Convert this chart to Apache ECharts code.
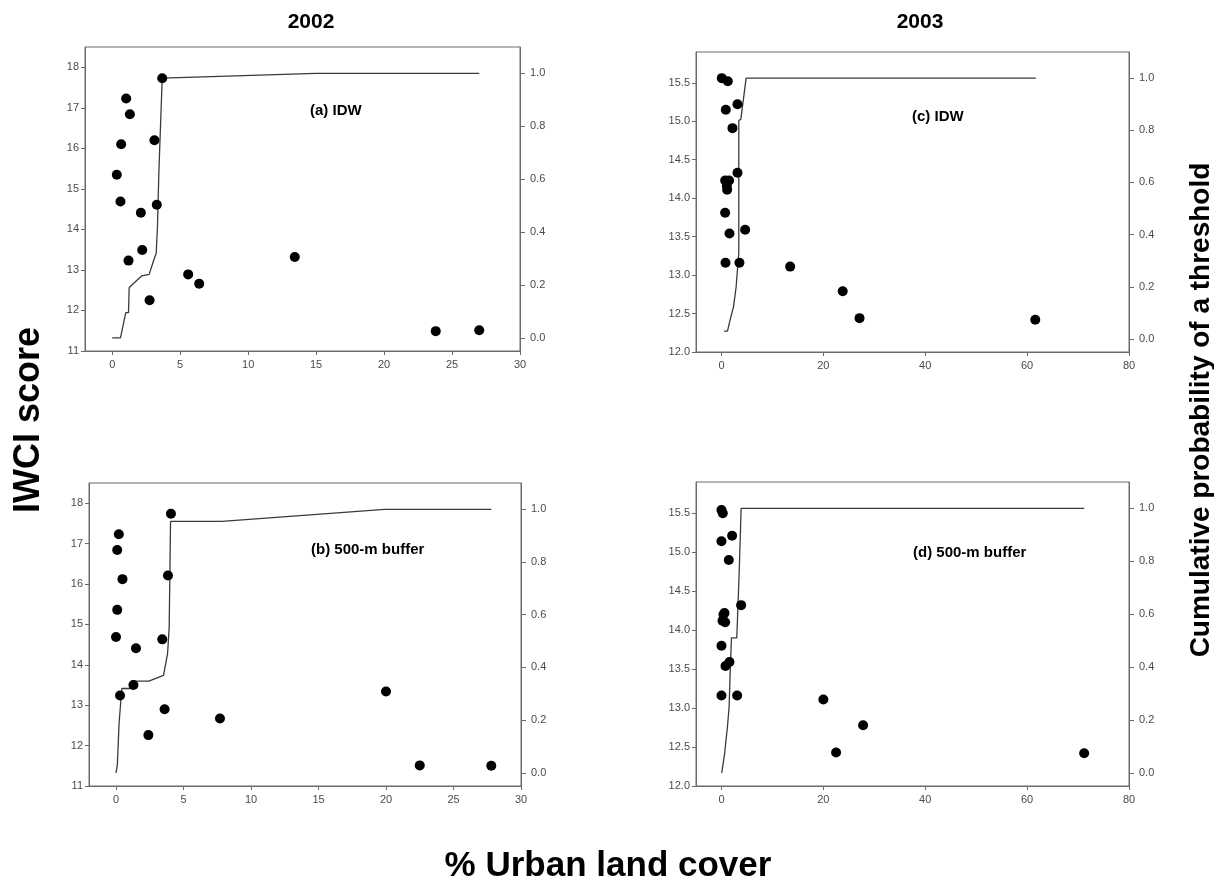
<!DOCTYPE html>
<html>
<head>
<meta charset="utf-8">
<script src="https://cdn.jsdelivr.net/npm/echarts@6/dist/echarts.min.js"></script>
<style>
html,body{margin:0;padding:0;background:#fff;}
#chart{width:1214px;height:886px;}
</style>
</head>
<body>
<div id="chart"></div>
<script>
// ---------- data ----------
// (a) 2002 IDW : % urban land cover, IWCI score
const urbanA = [3.68, 1.03, 1.30, 0.66, 3.11, 0.34, 0.61, 3.28, 2.11, 2.21, 1.20, 5.59, 6.40, 2.75, 13.43, 23.8, 27.0];
const iwciA  = [17.73, 17.23, 16.84, 16.10, 16.20, 15.35, 14.69, 14.61, 14.41, 13.49, 13.23, 12.89, 12.66, 12.25, 13.32, 11.49, 11.51];
const cumXA  = [0, 0.61, 1.0, 1.2, 1.25, 2.16, 2.72, 3.06, 3.24, 3.33, 3.43, 3.68, 15.0, 27.0];
const cumPA  = [0, 0, 0.095, 0.095, 0.19, 0.234, 0.24, 0.294, 0.32, 0.42, 0.62, 0.982, 1.0, 1.0];

// (b) 2002 500-m buffer
const urbanB = [4.07, 0.21, 0.09, 0.48, 0.09, 0.0, 3.85, 1.48, 3.43, 1.29, 0.3, 3.6, 2.4, 7.7, 20.0, 22.5, 27.8];
const iwciB  = [17.74, 17.23, 16.84, 16.12, 15.36, 14.69, 16.21, 14.41, 14.63, 13.50, 13.24, 12.90, 12.26, 12.67, 13.34, 11.51, 11.50];
const cumXB  = [0, 0.1, 0.23, 0.29, 0.43, 1.14, 1.14, 2.43, 3.52, 3.82, 3.94, 4.04, 7.85, 19.9, 27.8];
const cumPB  = [0, 0.03, 0.19, 0.19, 0.32, 0.32, 0.348, 0.348, 0.37, 0.452, 0.553, 0.954, 0.954, 1.0, 1.0];

// (c) 2003 IDW
const urbanC = [0.07, 1.24, 0.85, 3.14, 2.16, 3.14, 0.72, 1.5, 1.05, 1.11, 0.72, 1.57, 4.65, 0.79, 3.53, 13.48, 23.8, 27.1, 61.6];
const iwciC  = [15.56, 15.52, 15.15, 15.22, 14.91, 14.33, 14.23, 14.23, 14.16, 14.11, 13.81, 13.54, 13.59, 13.16, 13.16, 13.11, 12.79, 12.44, 12.42];
const cumXC  = [0.52, 1.18, 1.7, 2.36, 2.88, 3.27, 3.4, 3.4, 3.8, 4.84, 61.7];
const cumPC  = [0.03, 0.03, 0.073, 0.123, 0.2, 0.30, 0.327, 0.837, 0.842, 1.0, 1.0];

// (d) 2003 500-m buffer
const urbanD = [0.0, 0.26, 0.0, 2.09, 1.44, 3.86, 0.59, 0.2, 0.72, 0.4, 0.0, 0.79, 1.57, 0.0, 3.08, 20.0, 27.8, 22.5, 71.2];
const iwciD  = [15.54, 15.50, 15.14, 15.21, 14.90, 14.32, 14.22, 14.12, 14.10, 14.20, 13.80, 13.54, 13.59, 13.16, 13.16, 13.11, 12.78, 12.43, 12.42];
const cumXD  = [0.05, 0.6, 1.18, 1.5, 1.7, 1.96, 3.0, 3.14, 3.47, 3.86, 71.2];
const cumPD  = [0.0, 0.07, 0.175, 0.25, 0.376, 0.51, 0.51, 0.578, 0.754, 1.0, 1.0];

// tick labels
const xTicks2002 = [0, 5, 10, 15, 20, 25, 30];
const xTicks2003 = [0, 20, 40, 60, 80];
const yTicks2002 = [11, 12, 13, 14, 15, 16, 17, 18];
const yTicks2003 = [12.0, 12.5, 13.0, 13.5, 14.0, 14.5, 15.0, 15.5];
const probTicks  = [0.0, 0.2, 0.4, 0.6, 0.8, 1.0];

const yearTitles  = ['2002', '2003'];
const panelLabels = ['(a) IDW', '(b) 500-m buffer', '(c) IDW', '(d) 500-m buffer'];
const yTitle = 'IWCI score';
const y2Title = 'Cumulative probability of a threshold';
const xTitle = '% Urban land cover';

// ---------- layout ----------
const FONT = 'Liberation Sans, Arial, sans-serif';
const AXC = '#6a6a6a';
const LBL = '#4a4a4a';

const grids = [
  {left: 85,  top: 47,  width: 435, height: 304},
  {left: 89,  top: 483, width: 432, height: 303},
  {left: 696, top: 52,  width: 433, height: 300},
  {left: 696, top: 482, width: 433, height: 304}
].map(g => Object.assign({show: true, borderColor: AXC, borderWidth: 1, backgroundColor: 'transparent'}, g));

function xAx(i, min, max, ticks) {
  return {
    type: 'value', gridIndex: i, min: min, max: max,
    axisLine: {show: true, onZero: false, lineStyle: {color: AXC, width: 1}},
    axisTick: {show: true, length: 4, customValues: ticks, lineStyle: {color: AXC}},
    axisLabel: {customValues: ticks, color: LBL, fontSize: 11, fontFamily: FONT, margin: 8},
    splitLine: {show: false}
  };
}
function yLeft(i, min, max, ticks, dec) {
  return {
    type: 'value', gridIndex: i, position: 'left', min: min, max: max,
    axisLine: {show: true, onZero: false, lineStyle: {color: AXC, width: 1}},
    axisTick: {show: true, length: 4, customValues: ticks, lineStyle: {color: AXC}},
    axisLabel: {customValues: ticks, color: LBL, fontSize: 11, fontFamily: FONT, margin: 6,
      formatter: v => dec ? Number(v).toFixed(1) : String(Math.round(v))},
    splitLine: {show: false}
  };
}
function yRight(i) {
  return {
    type: 'value', gridIndex: i, position: 'right', min: -0.05, max: 1.1,
    axisLine: {show: true, onZero: false, lineStyle: {color: AXC, width: 1}},
    axisTick: {show: true, length: 5, customValues: probTicks, lineStyle: {color: AXC}},
    axisLabel: {customValues: probTicks, color: LBL, fontSize: 11, fontFamily: FONT, margin: 10,
      formatter: v => Number(v).toFixed(1)},
    splitLine: {show: false}
  };
}

const xAxes = [
  xAx(0, -2, 30, xTicks2002),
  xAx(1, -2, 30, xTicks2002),
  xAx(2, -5, 80, xTicks2003),
  xAx(3, -5, 80, xTicks2003)
];
const yAxes = [
  yLeft(0, 11, 18.5, yTicks2002, false), yRight(0),
  yLeft(1, 11, 18.5, yTicks2002, false), yRight(1),
  yLeft(2, 12, 15.9, yTicks2003, true),  yRight(2),
  yLeft(3, 12, 15.9, yTicks2003, true),  yRight(3)
];

const zip = (a, b) => a.map((v, i) => [v, b[i]]);
const panels = [
  [urbanA, iwciA, cumXA, cumPA],
  [urbanB, iwciB, cumXB, cumPB],
  [urbanC, iwciC, cumXC, cumPC],
  [urbanD, iwciD, cumXD, cumPD]
];
const series = [];
panels.forEach((p, i) => {
  series.push({
    type: 'line', xAxisIndex: i, yAxisIndex: 2 * i + 1,
    data: zip(p[2], p[3]), showSymbol: false, symbol: 'none',
    lineStyle: {color: '#3a3a3a', width: 1.3}, silent: true, animation: false, z: 2
  });
  series.push({
    type: 'scatter', xAxisIndex: i, yAxisIndex: 2 * i,
    data: zip(p[0], p[1]), symbol: 'circle', symbolSize: 10,
    itemStyle: {color: '#000', opacity: 1}, silent: true, animation: false, z: 3
  });
});

function txt(x, y, s, size, opts) {
  return Object.assign({
    type: 'text', x: x, y: y, silent: true,
    style: {text: s, font: 'bold ' + size + 'px ' + FONT, fill: '#000',
      textAlign: 'center', textVerticalAlign: 'middle'}
  }, opts || {});
}
const graphics = [
  txt(311, 22, yearTitles[0], 21),
  txt(920, 22, yearTitles[1], 21),
  {type: 'text', x: 310, y: 111, silent: true, style: {text: panelLabels[0], font: 'bold 15px ' + FONT, fill: '#000', textAlign: 'left', textVerticalAlign: 'middle'}},
  {type: 'text', x: 311, y: 550, silent: true, style: {text: panelLabels[1], font: 'bold 15px ' + FONT, fill: '#000', textAlign: 'left', textVerticalAlign: 'middle'}},
  {type: 'text', x: 912, y: 117, silent: true, style: {text: panelLabels[2], font: 'bold 15px ' + FONT, fill: '#000', textAlign: 'left', textVerticalAlign: 'middle'}},
  {type: 'text', x: 913, y: 553, silent: true, style: {text: panelLabels[3], font: 'bold 15px ' + FONT, fill: '#000', textAlign: 'left', textVerticalAlign: 'middle'}},
  txt(29, 420, yTitle, 36, {rotation: Math.PI / 2}),
  txt(1201, 410, y2Title, 28, {rotation: Math.PI / 2}),
  txt(608, 866, xTitle, 35)
];

const chart = echarts.init(document.getElementById('chart'), null, {renderer: 'canvas'});
chart.setOption({
  backgroundColor: '#fff',
  animation: false,
  grid: grids,
  xAxis: xAxes,
  yAxis: yAxes,
  series: series,
  graphic: graphics
});
</script>
</body>
</html>
